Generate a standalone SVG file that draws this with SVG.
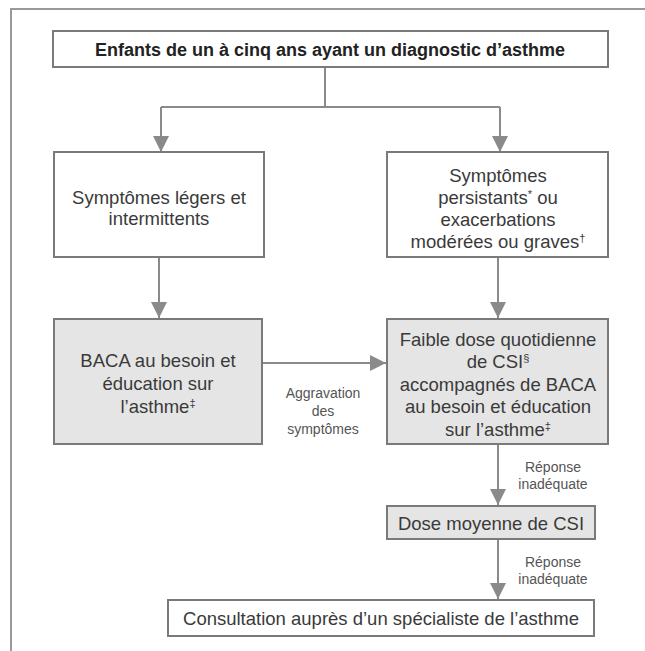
<svg xmlns="http://www.w3.org/2000/svg" width="645" height="651" viewBox="0 0 645 651">
<style>
.box{fill:#ffffff;stroke:#7a7a7a;stroke-width:2}
.gbox{fill:#e5e5e5;stroke:#7a7a7a;stroke-width:2}
.t{font-family:"Liberation Sans",Arial,sans-serif;font-size:18.5px;fill:#3a3a3a;text-anchor:middle}
.b{font-family:"Liberation Sans",Arial,sans-serif;font-size:18px;font-weight:bold;fill:#222;text-anchor:middle}
.l{font-family:"Liberation Sans",Arial,sans-serif;font-size:14px;fill:#555;text-anchor:middle}
.c{fill:none;stroke:#8a8a8a;stroke-width:2}
.sup{font-size:11px}
</style>
<defs>
<marker id="ah" viewBox="0 0 16 16" refX="16" refY="8" markerWidth="16" markerHeight="16" markerUnits="userSpaceOnUse" orient="auto">
<path d="M0,0 L16,8 L0,16 z" fill="#8a8a8a"/>
</marker>
</defs>
<rect width="645" height="651" fill="#ffffff"/>
<path d="M645,9 H11 V651" fill="none" stroke="#999" stroke-width="2"/>
<g id="connectors">
<path class="c" d="M325,67 V107 M161,107 H500"/>
<path class="c" d="M161,107 V152" marker-end="url(#ah)"/>
<path class="c" d="M500,107 V152" marker-end="url(#ah)"/>
<path class="c" d="M159,257 V318" marker-end="url(#ah)"/>
<path class="c" d="M498,257 V318" marker-end="url(#ah)"/>
<path class="c" d="M262,363 H386" marker-end="url(#ah)"/>
<path class="c" d="M498,444 V505" marker-end="url(#ah)"/>
<path class="c" d="M498,539 V599" marker-end="url(#ah)"/>
<text class="l" x="323" y="398">Aggravation</text>
<text class="l" x="323" y="416">des</text>
<text class="l" x="323" y="434">symptômes</text>
<text class="l" x="553" y="472">Réponse</text>
<text class="l" x="553" y="489">inadéquate</text>
<text class="l" x="553" y="567">Réponse</text>
<text class="l" x="553" y="584">inadéquate</text>
</g>
<g id="n_top">
<rect class="box" x="53" y="31" width="555" height="36"/>
<text class="b" x="330" y="55.5">Enfants de un à cinq ans ayant un diagnostic d’asthme</text>
</g>
<g id="n_legers">
<rect class="box" x="54" y="152" width="210" height="105"/>
<text class="t" x="159" y="203.5">Symptômes légers et</text>
<text class="t" x="159" y="225">intermittents</text>
</g>
<g id="n_persistants">
<rect class="box" x="387" y="152" width="221" height="105"/>
<text class="t" x="498" y="181.5">Symptômes</text>
<text class="t" x="498" y="203.5">persistants<tspan class="sup" baseline-shift="super">*</tspan> ou</text>
<text class="t" x="498" y="225.5">exacerbations</text>
<text class="t" x="498" y="247.5">modérées ou graves<tspan class="sup" baseline-shift="super">†</tspan></text>
</g>
<g id="n_baca">
<rect class="gbox" x="54" y="319" width="208" height="125"/>
<text class="t" x="158" y="366.5">BACA au besoin et</text>
<text class="t" x="158" y="389.5">éducation sur</text>
<text class="t" x="158" y="412.5">l’asthme<tspan class="sup" baseline-shift="super">‡</tspan></text>
</g>
<g id="n_csi">
<rect class="gbox" x="387" y="319" width="221" height="125"/>
<text class="t" x="498" y="345.5">Faible dose quotidienne</text>
<text class="t" x="498" y="368">de CSI<tspan class="sup" baseline-shift="super">§</tspan></text>
<text class="t" x="498" y="390.5">accompagnés de BACA</text>
<text class="t" x="498" y="413">au besoin et éducation</text>
<text class="t" x="498" y="435.5">sur l’asthme<tspan class="sup" baseline-shift="super">‡</tspan></text>
</g>
<g id="n_dose">
<rect class="gbox" x="387" y="506" width="208" height="33"/>
<text class="t" x="491" y="530">Dose moyenne de CSI</text>
</g>
<g id="n_consult">
<rect class="box" x="168" y="600" width="426" height="36"/>
<text class="t" x="381" y="624.5">Consultation auprès d’un spécialiste de l’asthme</text>
</g>
</svg>
